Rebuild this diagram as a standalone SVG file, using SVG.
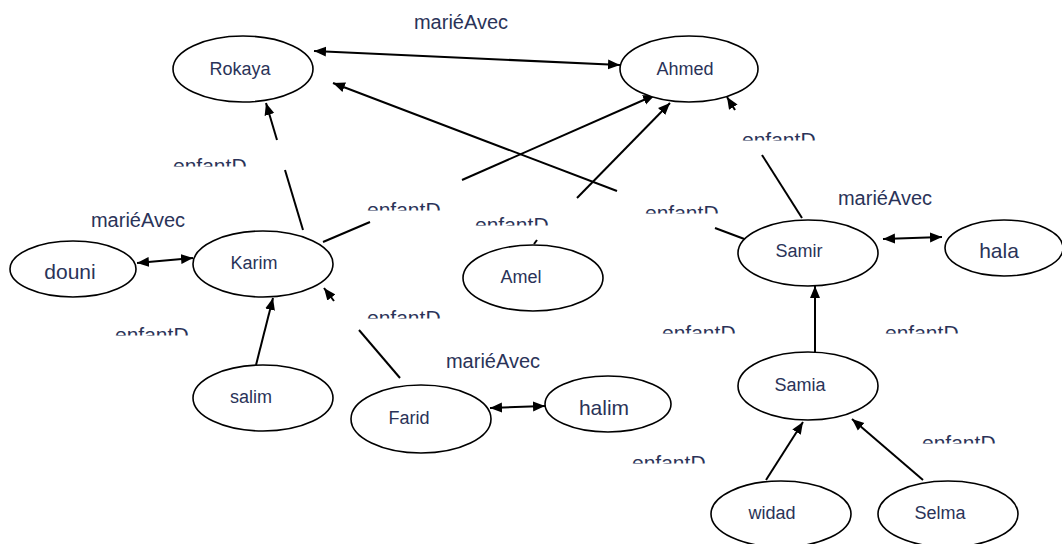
<svg xmlns="http://www.w3.org/2000/svg" width="1062" height="544" viewBox="0 0 1062 544">
<style>
.node ellipse{fill:#fff;stroke:#000;stroke-width:1.6}
.node text{font-family:"Liberation Sans",Arial,sans-serif;font-size:18px;fill:#2a3358;text-anchor:middle}
.node text.big{font-size:21px}
.lbl{font-family:"Liberation Sans",Arial,sans-serif;font-size:20px;fill:#2a3358}
.mar{text-anchor:middle}
.ef{font-size:21px}
.edge{stroke:#000;stroke-width:2;fill:none}
.a{marker-end:url(#ah)}
.b{marker-start:url(#ah);marker-end:url(#ah)}
</style>
<defs>
<marker id="ah" markerUnits="userSpaceOnUse" markerWidth="13" markerHeight="11" refX="12" refY="5" orient="auto-start-reverse" viewBox="0 0 13 10"><path d="M0,0 L12,5 L0,10 Z" fill="#000"/></marker>
</defs>
<rect width="1062" height="544" fill="#fff"/>
<g id="connectors">
<path class="edge b" d="M314,51 L620,65"/>
<path class="edge" d="M303,230 L285,170"/>
<path class="edge a" d="M277,140 L266,103"/>
<path class="edge" d="M323,242 L370,222"/>
<path class="edge a" d="M462,180 L655,95"/>
<path class="edge" d="M755,243 L715,228"/>
<path class="edge a" d="M617,191 L333,83"/>
<path class="edge" d="M534,244 L537,240"/>
<path class="edge a" d="M577,198 L670,103"/>
<path class="edge" d="M802,218 L762,155"/>
<path class="edge a" d="M735,110 L727,97"/>
<path class="edge b" d="M137,263 L193,258"/>
<path class="edge a" d="M256,365 L273,298"/>
<path class="edge" d="M400,378 L359,330"/>
<path class="edge a" d="M334,301 L324,288"/>
<path class="edge b" d="M490,408 L545,406"/>
<path class="edge b" d="M883,239 L942,237"/>
<path class="edge a" d="M815,352 L815,286"/>
<path class="edge a" d="M766,480 L803,422"/>
<path class="edge a" d="M923,480 L852,419"/>
</g>
<g id="labels">
<text class="lbl mar" x="461" y="29">mariéAvec</text>
<text class="lbl mar" x="138" y="227">mariéAvec</text>
<text class="lbl mar" x="885" y="205">mariéAvec</text>
<text class="lbl mar" x="493" y="368">mariéAvec</text>
<svg x="173" y="158" width="80" height="8.5" overflow="hidden"><text class="lbl ef" x="0" y="15.3">enfantD</text></svg>
<svg x="367" y="202" width="80" height="8.5" overflow="hidden"><text class="lbl ef" x="0" y="15.3">enfantD</text></svg>
<svg x="475" y="217" width="80" height="8.5" overflow="hidden"><text class="lbl ef" x="0" y="15.3">enfantD</text></svg>
<svg x="645" y="205" width="80" height="8.5" overflow="hidden"><text class="lbl ef" x="0" y="15.3">enfantD</text></svg>
<svg x="742" y="132" width="80" height="8.5" overflow="hidden"><text class="lbl ef" x="0" y="15.3">enfantD</text></svg>
<svg x="115" y="327" width="80" height="8.5" overflow="hidden"><text class="lbl ef" x="0" y="15.3">enfantD</text></svg>
<svg x="367" y="310" width="80" height="8.5" overflow="hidden"><text class="lbl ef" x="0" y="15.3">enfantD</text></svg>
<svg x="662" y="325" width="80" height="8.5" overflow="hidden"><text class="lbl ef" x="0" y="15.3">enfantD</text></svg>
<svg x="885" y="325" width="80" height="8.5" overflow="hidden"><text class="lbl ef" x="0" y="15.3">enfantD</text></svg>
<svg x="922" y="435" width="80" height="8.5" overflow="hidden"><text class="lbl ef" x="0" y="15.3">enfantD</text></svg>
<svg x="632" y="455" width="80" height="8.5" overflow="hidden"><text class="lbl ef" x="0" y="15.3">enfantD</text></svg>
</g>
<g id="Rokaya" class="node"><ellipse cx="243" cy="69" rx="70" ry="33"/><text x="240" y="75">Rokaya</text></g>
<g id="Ahmed" class="node"><ellipse cx="689" cy="69" rx="69" ry="33"/><text x="685" y="75">Ahmed</text></g>
<g id="Karim" class="node"><ellipse cx="263" cy="264" rx="70" ry="33"/><text x="254" y="269">Karim</text></g>
<g id="douni" class="node"><ellipse cx="73" cy="269" rx="63" ry="28"/><text class="big" x="70" y="279">douni</text></g>
<g id="Amel" class="node"><ellipse cx="533" cy="278" rx="70" ry="33"/><text x="521" y="283">Amel</text></g>
<g id="Samir" class="node"><ellipse cx="808" cy="253" rx="70" ry="33"/><text x="799" y="257">Samir</text></g>
<g id="hala" class="node"><ellipse cx="1004" cy="248" rx="59" ry="28"/><text class="big" x="999" y="258">hala</text></g>
<g id="salim" class="node"><ellipse cx="263" cy="398" rx="70" ry="33"/><text x="251" y="403">salim</text></g>
<g id="Farid" class="node"><ellipse cx="421" cy="419" rx="70" ry="34"/><text x="409" y="424">Farid</text></g>
<g id="halim" class="node"><ellipse cx="608" cy="404" rx="63" ry="28"/><text class="big" x="604" y="415">halim</text></g>
<g id="Samia" class="node"><ellipse cx="808" cy="386" rx="70" ry="34"/><text x="800" y="391">Samia</text></g>
<g id="widad" class="node"><ellipse cx="781" cy="514" rx="70" ry="33"/><text x="772" y="519">widad</text></g>
<g id="Selma" class="node"><ellipse cx="948" cy="514" rx="70" ry="33"/><text x="940" y="519">Selma</text></g>
</svg>
